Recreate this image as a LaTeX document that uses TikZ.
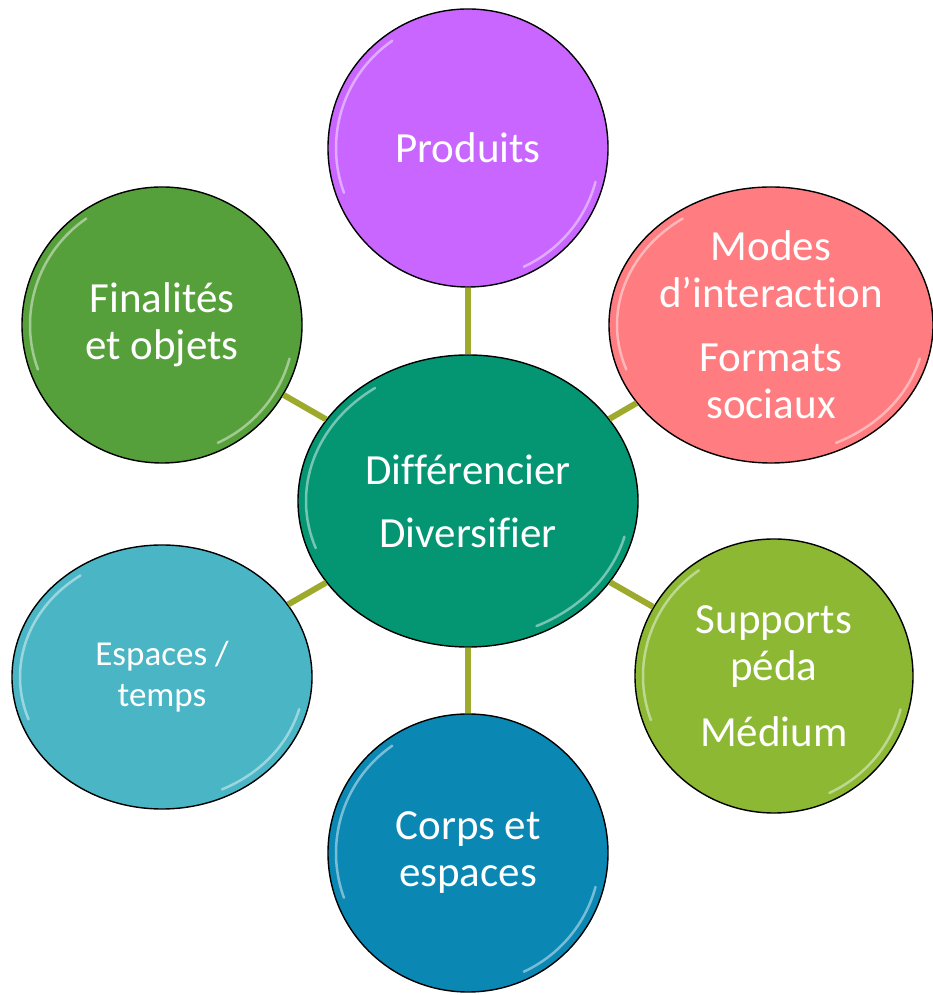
\documentclass[tikz,border=0pt]{standalone}
\usepackage{fontspec}
\setmainfont{Carlito}[Ligatures=NoCommon]
\usetikzlibrary{shapes.geometric,calc}

\definecolor{hubcol}{HTML}{049673}
\definecolor{prodcol}{HTML}{C966FF}
\definecolor{modecol}{HTML}{FF7C80}
\definecolor{fincol}{HTML}{56A03B}
\definecolor{espcol}{HTML}{4AB5C5}
\definecolor{supcol}{HTML}{8CB834}
\definecolor{corpscol}{HTML}{0A87B3}
\definecolor{linkcol}{HTML}{9DAA2B}

\tikzset{
  bubble/.style={ellipse,draw=black,line width=1.4pt,inner sep=-14pt,
    text=white,align=center,font=\fontsize{43}{47}\selectfont,
    path picture={
      \draw[white,opacity=.45,line width=2.5pt,line cap=round]
        let \p1=($(path picture bounding box.north east)-(path picture bounding box.center)$) in
        ($(path picture bounding box.center)+({(\x1-8pt)*cos(125)},{(\y1-8pt)*sin(125)})$)
          arc[start angle=125,end angle=200,x radius=\x1-8pt,y radius=\y1-8pt]
        ($(path picture bounding box.center)+({(\x1-8pt)*cos(-15)},{(\y1-8pt)*sin(-15)})$)
          arc[start angle=-15,end angle=-65,x radius=\x1-8pt,y radius=\y1-8pt];
    }},
  link/.style={draw=linkcol,line width=6pt}
}

\begin{document}
\begin{tikzpicture}[x=1pt,y=1pt]
    \useasboundingbox (0,0) rectangle (932,995);
    \node[bubble,fill=hubcol,minimum width=340,minimum height=292] (hub) at (468,494) {Différencier\\[16pt]Diversifier};
    \node[bubble,fill=prodcol,minimum width=280,minimum height=278] (prod) at (468,847) {Produits};
    \node[bubble,fill=modecol,minimum width=324,minimum height=276] (modes) at (771,670) {Modes\\d’interaction\\[17pt]Formats\\sociaux};
    \node[bubble,fill=fincol,minimum width=280,minimum height=276] (fin) at (162,670) {Finalités\\et objets};
    \node[bubble,fill=espcol,minimum width=300,minimum height=264,
      font=\fontsize{35}{41}\selectfont] (esp) at (162,318) {Espaces /\\temps};
    \node[bubble,fill=supcol,minimum width=278,minimum height=274] (sup) at (774,319) {Supports\\péda\\[19pt]Médium};
    \node[bubble,fill=corpscol,minimum width=280,minimum height=278] (corps) at (468,142) {Corps et\\espaces};
    % spokes
    \foreach \n in {prod,modes,fin,esp,sup,corps}
      \path[link] (hub) edge (\n);
  \end{tikzpicture}
\end{document}
